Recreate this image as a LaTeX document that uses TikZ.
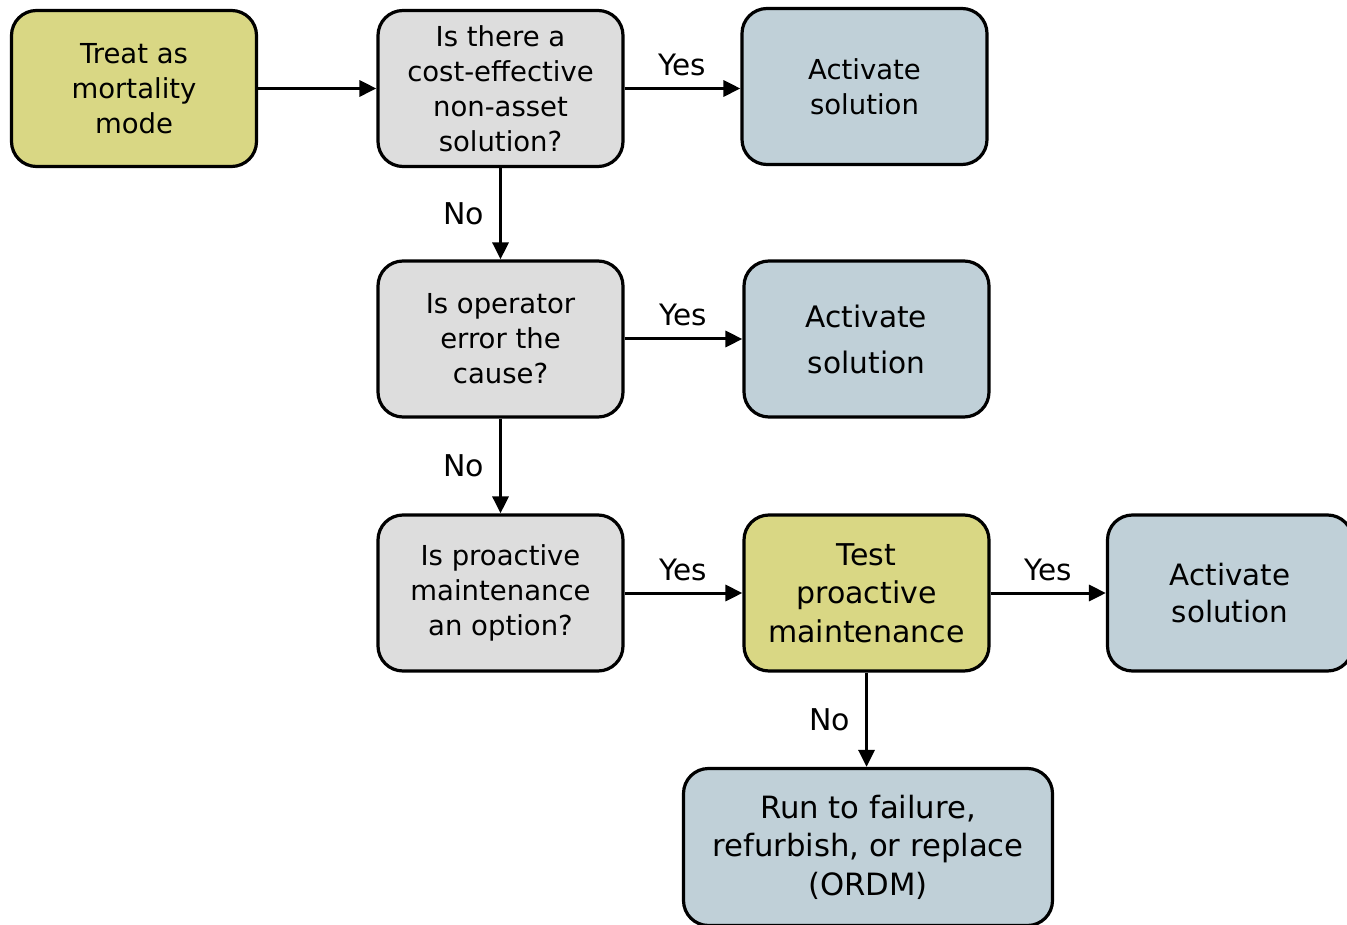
\documentclass[tikz,border=0pt]{standalone}
\usepackage{fontspec}
\setmainfont{DejaVu Sans}
\usetikzlibrary{arrows.meta}

\definecolor{boxyellow}{HTML}{D9D784}
\definecolor{boxgrey}{HTML}{DDDDDD}
\definecolor{boxblue}{HTML}{C0D0D8}

\tikzset{
  flowbox/.style={draw=black, line width=3.2pt, rounded corners=25pt,
    minimum width=245pt, minimum height=156pt, inner sep=0pt, align=center,
    font=\fontsize{27.5}{35}\selectfont},
  question/.style={flowbox, fill=boxgrey},
  action/.style={flowbox, fill=boxyellow},
  outcome/.style={flowbox, fill=boxblue},
  flow/.style={line width=3pt, -{Triangle[length=17pt,width=16pt]}},
  yeslabel/.style={midway, anchor=base, yshift=13pt, inner sep=0pt,
    font=\fontsize{29.5}{35}\selectfont},
  nolabel/.style={midway, anchor=east, xshift=-15pt, inner sep=0pt,
    font=\fontsize{30}{35}\selectfont}
}

\begin{document}
\begin{tikzpicture}[x=1pt, y=-1pt]
  \useasboundingbox (0,0) rectangle (1347,925);

  % boxes
  \node[action] (treat) at (134,88.5) {Treat as\\mortality\\mode};
  \node[question] (q1) at (500.5,88.5) {Is there a\\cost-effective\\non-asset\\solution?};
  \node[outcome] (a1) at (864.5,86.5) {Activate\\solution};

  \node[question] (q2) at (500.5,339) {Is operator\\error the\\cause?};
  \node[outcome, font=\fontsize{29.6}{46}\selectfont] (a2) at (866.5,339) {Activate\\solution};

  \node[question] (q3) at (500.5,593) {Is proactive\\maintenance\\an option?};
  \node[action, font=\fontsize{30}{38.5}\selectfont] (test) at (866.5,593) {Test\\proactive\\maintenance};
  \node[outcome, font=\fontsize{29.4}{37}\selectfont] (a3) at (1230,593) {Activate\\solution};

  \node[outcome, minimum width=369pt, minimum height=157pt,
        font=\fontsize{30.7}{38.5}\selectfont] (ordm) at (868,847)
        {Run to failure,\\refurbish, or replace\\(ORDM)};

  % connectors
  \draw[flow] (treat.east) -- (treat.east -| q1.west);
  \draw[flow] (q1.east) -- (q1.east -| a1.west) node[yeslabel] {Yes};
  \draw[flow] (q1.south) -- (q2.north) node[nolabel] {No};
  \draw[flow] (q2.east) -- (a2.west) node[yeslabel] {Yes};
  \draw[flow] (q2.south) -- (q3.north) node[nolabel] {No};
  \draw[flow] (q3.east) -- (test.west) node[yeslabel] {Yes};
  \draw[flow] (test.east) -- (a3.west) node[yeslabel] {Yes};
  \draw[flow] (test.south) -- (test.south |- ordm.north) node[nolabel] {No};
\end{tikzpicture}
\end{document}
